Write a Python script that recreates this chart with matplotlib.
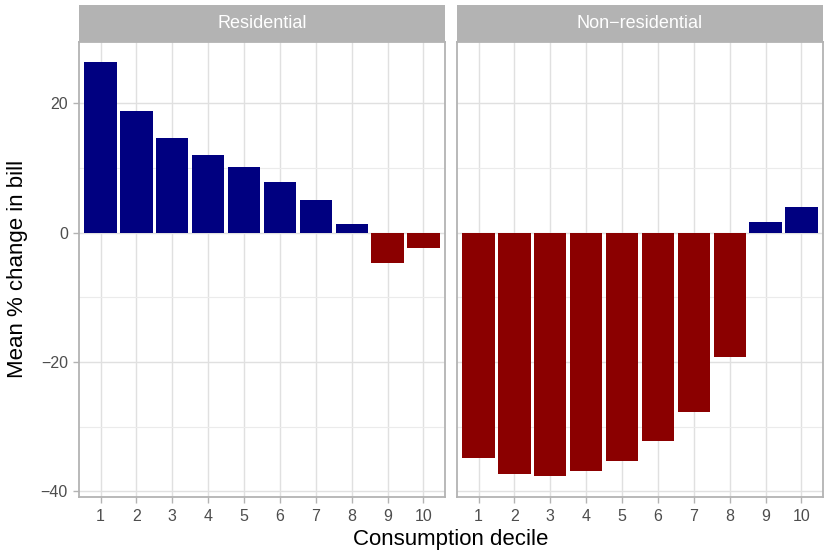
import matplotlib
matplotlib.use("Agg")
import matplotlib.pyplot as plt
from matplotlib.ticker import MultipleLocator

plt.rcParams['font.family'] = ['Liberation Sans', 'DejaVu Sans']

deciles = [1, 2, 3, 4, 5, 6, 7, 8, 9, 10]
tick_labels = ["1", "2", "3", "4", "5", "6", "7", "8", "9", "10"]
panels = ["Residential", "Non\u2212residential"]
residential = [26.4, 18.8, 14.65, 12.0, 10.15, 7.85, 5.05, 1.35, -4.65, -2.45]
non_residential = [-34.8, -37.3, -37.7, -36.8, -35.3, -32.3, -27.7, -19.3, 1.7, 4.0]
series = [residential, non_residential]

POS = "#000080"
NEG = "#8B0000"
W, H = 826, 554
fig = plt.figure(figsize=(W / 100, H / 100), dpi=100)
fig.patch.set_facecolor("white")

def px(x0, y0, x1, y1):
    return [x0 / W, 1 - y1 / H, (x1 - x0) / W, (y1 - y0) / H]

panel_x = [(79, 445), (457, 823)]
top, bottom = 42, 497
strip_top = 5

for i, (name, vals) in enumerate(zip(panels, series)):
    x0, x1 = panel_x[i]
    ax = fig.add_axes(px(x0, top, x1, bottom))
    colors = [POS if v >= 0 else NEG for v in vals]
    ax.bar(deciles, vals, width=0.9, color=colors, zorder=3)
    ax.set_xlim(0.4, 10.6)
    ax.set_ylim(-40.9, 29.5)
    ax.set_xticks(deciles)
    ax.set_xticklabels(tick_labels)
    ax.yaxis.set_major_locator(MultipleLocator(20))
    ax.yaxis.set_minor_locator(MultipleLocator(10))
    ax.grid(which="major", color="#E0E0E0", linewidth=1.0, zorder=0)
    ax.grid(which="minor", axis="y", color="#EBEBEB", linewidth=0.8, zorder=0)
    ax.set_axisbelow(True)
    for s in ax.spines.values():
        s.set_color("#B3B3B3")
        s.set_linewidth(1.3)
    ax.tick_params(which="major", color="#B3B3B3", length=4, width=1,
                   labelsize=11.5, labelcolor="#4D4D4D")
    ax.tick_params(axis="x", pad=4.8)
    ax.tick_params(axis="y", pad=4.0)
    ax.tick_params(which="minor", length=0)
    if i == 1:
        ax.tick_params(axis="y", labelleft=False, length=0)
    # strip
    sax = fig.add_axes(px(x0, strip_top, x1, top))
    sax.set_facecolor("#B3B3B3")
    sax.set_xticks([]); sax.set_yticks([])
    for s in sax.spines.values():
        s.set_visible(False)
    sax.text(0.5, 0.5, name, color="white", fontsize=13, ha="center",
             va="center", transform=sax.transAxes)

fig.text((79 + 823) / 2 / W, 1 - 540 / H, "Consumption decile", fontsize=16,
         ha="center", va="center", color="black")
fig.text(18 / W, 1 - 269 / H, "Mean % change in bill", fontsize=16,
         ha="center", va="center", rotation=90, color="black")

fig.savefig("out.png", dpi=100, facecolor="white")
